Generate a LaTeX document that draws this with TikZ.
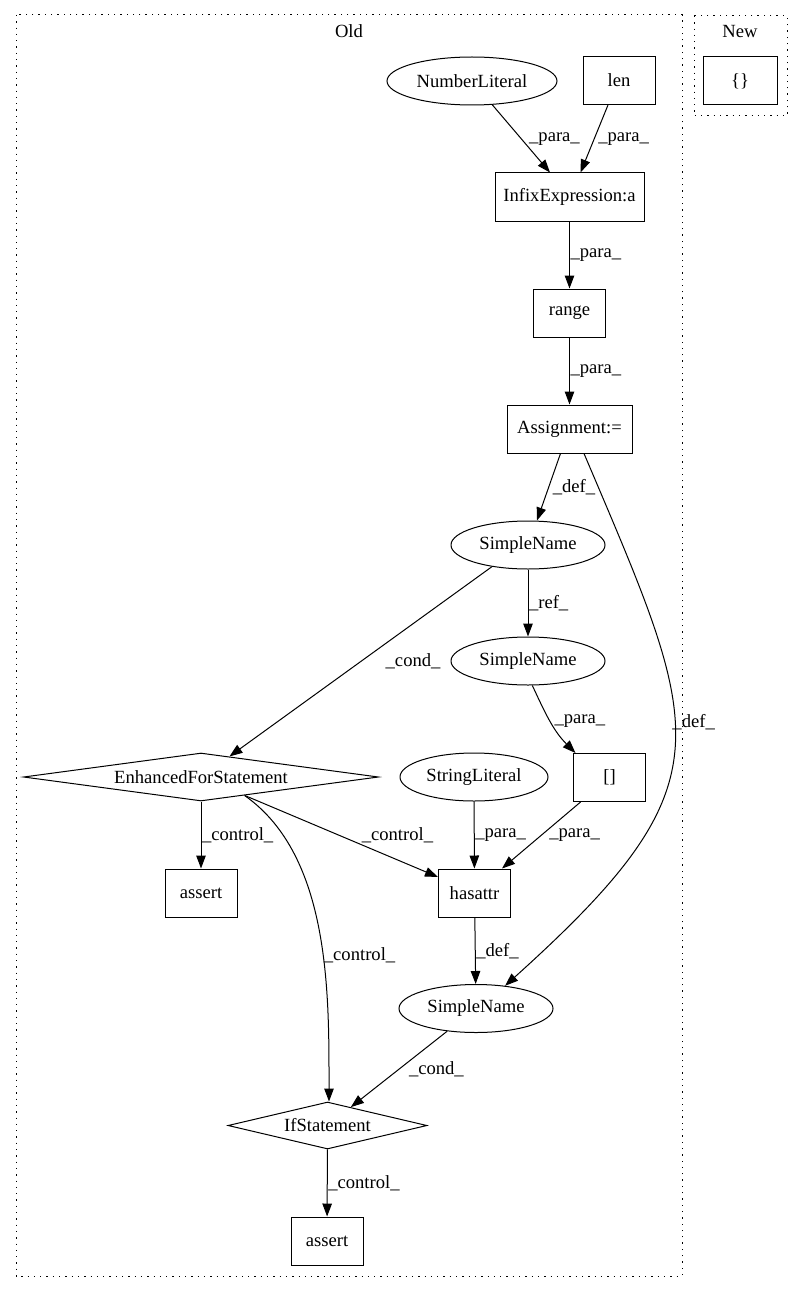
\documentclass[tikz,border=0pt]{standalone}
\usepackage{fontspec}
\setmainfont{Liberation Serif}
\usetikzlibrary{shapes.geometric,arrows.meta}

\begin{document}
\begin{tikzpicture}[x=1pt,y=1pt,line width=1pt,
    every node/.style={font=\fontsize{18.6}{22}\selectfont},
    caja/.style={draw, rectangle, inner sep=0pt, minimum width=72pt, minimum height=48pt},
    elip/.style={draw, ellipse, inner sep=0pt, minimum width=154pt, minimum height=48pt},
    rombo/.style={draw, diamond, inner sep=0pt},
    grupo/.style={draw, dash pattern=on 1.3pt off 5pt},
    flecha/.style={-{Triangle[length=13pt,width=9.5pt]}},
    etiq/.style={inner sep=0.5pt, anchor=west}]

	\useasboundingbox (0,0) rectangle (803,-1292);

	% Grupos Old y New
	\draw[grupo] (16,-15) rectangle (682,-1276);
	\node (old) at (349,-31) {Old};
	\draw[grupo] (694,-16) rectangle (787,-116);
	\node (new) at (740,-32) {New};

	% Nodos de Old
	\node[elip, minimum width=170pt] (NL) at (472,-81) {NumberLiteral};
	\node[caja] (len) at (619,-80.5) {len};
	\node[caja, minimum width=149pt] (Infix) at (569.5,-197) {InfixExpression:a};
	\node[caja] (range) at (569.5,-313) {range};
	\node[caja, minimum width=125pt] (Assign) at (569.5,-429) {Assignment:=};
	\node[elip] (SN1) at (528,-545) {SimpleName};
	\node[elip] (SN2) at (528,-661) {SimpleName};
	\node[rombo, minimum width=355pt, minimum height=48pt, aspect=7.4] (EFS) at (201,-777) {EnhancedForStatement};
	\node[elip, minimum width=148pt] (SL) at (474,-777) {StringLiteral};
	\node[caja] (brk) at (609.5,-777.5) {[]};
	\node[caja] (assert1) at (201,-893) {assert};
	\node[caja] (hasattr) at (474.5,-893) {hasattr};
	\node[elip] (SN3) at (476,-1008.5) {SimpleName};
	\node[rombo, minimum width=199pt, minimum height=47pt, aspect=4.2] (IfS) at (327.5,-1125.5) {IfStatement};
	\node[caja] (assert2) at (327,-1241) {assert};

	% Nodo de New
	\node[caja, minimum width=74pt] (vacio) at (740,-81) {\{\}};

	% Aristas rectas
	\foreach \from/\to/\lab in {Infix/range/para, range/Assign/para, SN1/SN2/ref, EFS/assert1/control, SL/hasattr/para, hasattr/SN3/def, IfS/assert2/control}
	\draw[flecha] (\from) -- (\to) node[etiq, midway] {\_\lab\_};

	% Aristas con anclas y curvas
	\draw[flecha] (NL) -- ([xshift=-19.5pt]Infix.north) node[etiq, midway, xshift=7pt] {\_para\_};
	\draw[flecha] ([xshift=-11pt]len.south) -- ([xshift=11pt]Infix.north) node[etiq, midway, xshift=3pt] {\_para\_};
	\draw[flecha] ([xshift=-9pt]Assign.south) -- ([xshift=9pt]SN1.north) node[etiq, midway, xshift=3pt] {\_def\_};
	\draw[flecha] ([xshift=14.5pt]Assign.south) to[out=-67, in=42, looseness=1.45] node[etiq, pos=0.44, xshift=-3pt] {\_def\_} (SN3.38);
	\draw[flecha] (SN1.211) -- (EFS) node[etiq, midway, xshift=24pt] {\_cond\_};
	\draw[flecha] (SN2.-80) to[out=-65, in=135] node[etiq, midway, xshift=3pt] {\_para\_} ([xshift=-34pt]brk.north);
	\draw[flecha] (EFS) -- ([yshift=16pt]hasattr.west) node[pos=0.79, yshift=25pt, inner sep=0pt] {\_control\_};
	\draw[flecha] (EFS.-23) to[out=-35, in=90, looseness=0.85] node[etiq, pos=0.57] {\_control\_} ([xshift=1.5pt]IfS.north);
	\draw[flecha] (brk) -- ([xshift=27.5pt]hasattr.north) node[etiq, midway, xshift=7pt] {\_para\_};
	\draw[flecha] (SN3) -- (IfS) node[etiq, midway, xshift=9pt] {\_cond\_};

\end{tikzpicture}
\end{document}
